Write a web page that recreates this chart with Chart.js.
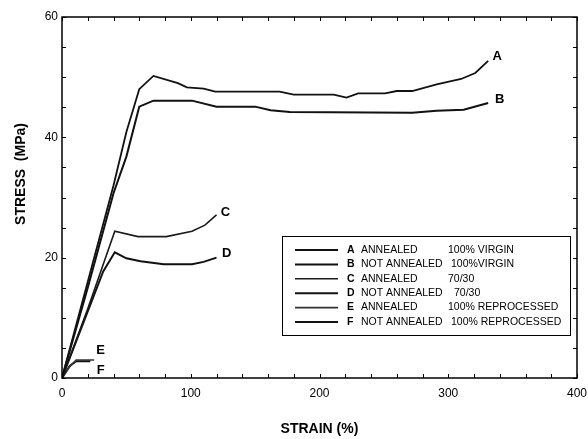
<!DOCTYPE html>
<html>
<head>
<meta charset="utf-8">
<script src="https://cdn.jsdelivr.net/npm/chart.js@4"></script>
<style>
html,body{margin:0;padding:0;background:#fff;}
#wrap{width:588px;height:439px;position:relative;}
</style>
</head>
<body>
<div id="wrap"><canvas id="c" width="588" height="439"></canvas></div>
<script>
// ---- data ----
const seriesNames = ['A', 'B', 'C', 'D', 'E', 'F'];
const strainA = [0, 20, 40, 50, 60, 71, 90, 97, 110, 119, 169, 180, 211, 221, 230, 251, 260, 272, 291, 310, 321, 331];
const stressA = [0, 16, 32, 40.9, 48, 50.2, 49, 48.3, 48.1, 47.6, 47.6, 47.1, 47.1, 46.6, 47.3, 47.3, 47.7, 47.7, 48.8, 49.7, 50.7, 52.7];
const strainB = [0, 20, 40, 50, 60, 71, 101, 120, 150, 162, 177, 272, 291, 312, 331];
const stressB = [0, 15, 30.7, 36.8, 45.1, 46.1, 46.1, 45.1, 45.1, 44.5, 44.2, 44.1, 44.4, 44.6, 45.7];
const strainC = [0, 20, 41, 59, 81, 101, 111, 120];
const stressC = [0, 11.5, 24.4, 23.5, 23.5, 24.4, 25.4, 27.1];
const strainD = [0, 32, 41, 50, 61, 79, 101, 110, 120];
const stressD = [0, 17.7, 20.9, 19.9, 19.4, 18.9, 18.9, 19.3, 20.0];
const strainE = [0, 6, 11, 25];
const stressE = [0, 1.9, 3.0, 3.0];
const strainF = [0, 6, 11, 22];
const stressF = [0, 2.0, 2.8, 2.8];
// curve label anchor values (strain, stress)
const labelStrain = [338, 340, 127, 128, 30, 30];
const labelStress = [53.5, 46.3, 27.5, 20.7, 4.65, 1.3];
const legendTreatment = ['ANNEALED', 'NOT ANNEALED', 'ANNEALED', 'NOT ANNEALED', 'ANNEALED', 'NOT ANNEALED'];
const legendMaterial = ['100% VIRGIN', '100%VIRGIN', '70/30', '70/30', '100% REPROCESSED', '100% REPROCESSED'];
const xTicks = [0, 100, 200, 300, 400];
const yTicks = [0, 20, 40, 60];
const xTitle = 'STRAIN (%)';
const yTitle = 'STRESS  (MPa)';

// ---- styles ----
const FONT = '"Liberation Sans", Arial, Helvetica, sans-serif';
const lineWidths = [1.8, 2, 1.6, 2, 1.6, 2];
const lineColors = ['#111', '#111', '#1a1a1a', '#111', '#333', '#111'];
const materialX = [448, 451, 448, 454, 448, 451];

const strains = [strainA, strainB, strainC, strainD, strainE, strainF];
const stresses = [stressA, stressB, stressC, stressD, stressE, stressF];

const datasets = seriesNames.map((n, i) => ({
  label: n,
  data: strains[i].map((x, k) => ({x: x, y: stresses[i][k]})),
  borderColor: lineColors[i],
  borderWidth: lineWidths[i],
  pointRadius: 0,
  tension: 0,
  fill: false,
  showLine: true
}));

const decor = {
  id: 'decor',
  afterDraw(chart) {
    const ctx = chart.ctx;
    const xs = chart.scales.x, ys = chart.scales.y;
    const a = chart.chartArea;
    ctx.save();
    // frame
    ctx.strokeStyle = '#000';
    ctx.lineWidth = 1.5;
    ctx.strokeRect(a.left, a.top, a.right - a.left, a.bottom - a.top);
    // inside ticks
    ctx.lineWidth = 1;
    ctx.beginPath();
    for (let v = 0; v <= 400; v += 20) {
      const px = Math.round(xs.getPixelForValue(v)) + 0.5;
      ctx.moveTo(px, a.bottom); ctx.lineTo(px, a.bottom - 4);
      ctx.moveTo(px, a.top); ctx.lineTo(px, a.top + 4);
    }
    for (let v = 0; v <= 60; v += 5) {
      const py = Math.round(ys.getPixelForValue(v)) + 0.5;
      ctx.moveTo(a.left, py); ctx.lineTo(a.left + 4, py);
      ctx.moveTo(a.right, py); ctx.lineTo(a.right - 4, py);
    }
    ctx.stroke();
    // curve labels
    ctx.fillStyle = '#000';
    ctx.font = 'bold 13px ' + FONT;
    ctx.textAlign = 'center';
    ctx.textBaseline = 'middle';
    seriesNames.forEach((n, i) => {
      ctx.fillText(n, xs.getPixelForValue(labelStrain[i]), ys.getPixelForValue(labelStress[i]));
    });
    // axis titles
    ctx.font = 'bold 14px ' + FONT;
    ctx.fillText(xTitle, (a.left + a.right) / 2, 429);
    ctx.save();
    ctx.translate(21, 174);
    ctx.rotate(-Math.PI / 2);
    ctx.fillText(yTitle, 0, 0);
    ctx.restore();
    // legend box
    const bx = 282, by = 236, bw = 288, bh = 99;
    ctx.fillStyle = '#fff';
    ctx.fillRect(bx, by, bw, bh);
    ctx.strokeStyle = '#000';
    ctx.lineWidth = 1;
    ctx.strokeRect(bx + 0.5, by + 0.5, bw, bh);
    ctx.textAlign = 'left';
    ctx.textBaseline = 'middle';
    seriesNames.forEach((n, i) => {
      const ry = by + 14 + i * 14.4;
      ctx.strokeStyle = lineColors[i];
      ctx.lineWidth = lineWidths[i];
      ctx.beginPath();
      ctx.moveTo(295, ry); ctx.lineTo(338, ry);
      ctx.stroke();
      ctx.fillStyle = '#000';
      ctx.font = 'bold 10.5px ' + FONT;
      ctx.fillText(n, 347, ry);
      ctx.font = '10.5px ' + FONT;
      ctx.fillText(legendTreatment[i], 361, ry);
      ctx.fillText(legendMaterial[i], materialX[i], ry);
    });
    ctx.restore();
  }
};

new Chart(document.getElementById('c'), {
  type: 'scatter',
  data: { datasets: datasets },
  options: {
    responsive: false,
    animation: false,
    devicePixelRatio: 1,
    layout: { padding: { left: 0, right: 11, top: 17, bottom: 0 } },
    plugins: { legend: { display: false }, tooltip: { enabled: false } },
    scales: {
      x: {
        type: 'linear', min: 0, max: 400,
        afterFit(s) { s.height = 61; },
        afterBuildTicks(s) { s.ticks = xTicks.map(v => ({value: v})); },
        grid: { display: false },
        border: { display: false },
        ticks: { color: '#000', font: { family: FONT, size: 12 }, padding: 0, maxRotation: 0 }
      },
      y: {
        type: 'linear', min: 0, max: 60,
        afterFit(s) { s.width = 62; },
        afterBuildTicks(s) { s.ticks = yTicks.map(v => ({value: v})); },
        grid: { display: false },
        border: { display: false },
        ticks: { color: '#000', font: { family: FONT, size: 12 }, padding: -4 }
      }
    }
  },
  plugins: [decor]
});
</script>
</body>
</html>
